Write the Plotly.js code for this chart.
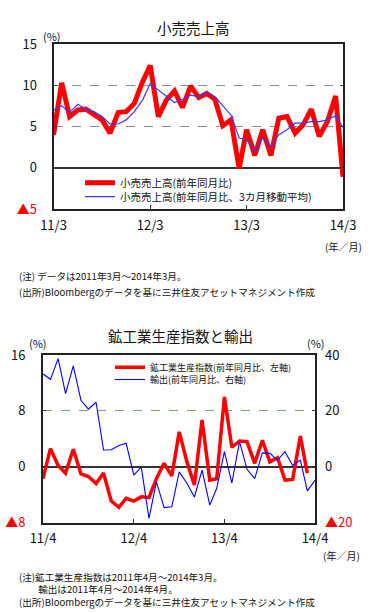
<!DOCTYPE html>
<html>
<head>
<meta charset="utf-8">
<script src="https://cdn.plot.ly/plotly-3.0.1.min.js"></script>
<style>
html,body{margin:0;padding:0;background:#fff;}
#chart{width:371px;height:613px;}
</style>
</head>
<body>
<div id="chart"></div>
<script>
// ---- Chart 1: retail sales (YoY %) ----
const months1 = ["2011-03","2011-04","2011-05","2011-06","2011-07","2011-08","2011-09","2011-10","2011-11","2011-12",
  "2012-01","2012-02","2012-03","2012-04","2012-05","2012-06","2012-07","2012-08","2012-09","2012-10","2012-11","2012-12",
  "2013-01","2013-02","2013-03","2013-04","2013-05","2013-06","2013-07","2013-08","2013-09","2013-10","2013-11","2013-12",
  "2014-01","2014-02","2014-03"];
const retail = [4.0,10.3,6.2,7.0,7.1,6.4,5.8,4.2,6.7,6.8,
  7.8,10.4,12.4,6.2,8.2,9.3,7.3,9.9,8.5,9.0,8.3,5.1,
  5.8,-0.1,4.6,1.5,4.6,1.5,6.0,6.2,4.2,5.2,7.1,3.8,
  5.6,8.7,-1.1];
const retailMA = [7.0,7.5,6.7,7.7,7.1,6.8,6.2,5.3,5.3,5.8,
  6.8,8.2,10.2,9.4,8.6,7.9,8.3,8.8,8.6,9.2,8.6,7.5,
  6.4,3.6,3.4,2.0,3.6,2.5,4.0,4.6,5.4,5.4,5.6,5.6,
  5.8,6.3,4.9];
const ticks1 = ["2011-03-01","2012-03-01","2013-03-01","2014-03-01"];
const tickText1 = ["11/3","12/3","13/3","14/3"];
const yTicks1 = [-5,0,5,10,15];
const yTickText1 = ['<span style="color:#ff0000">▲5</span>',"0","5","10","15"];

// ---- Chart 2: industrial production & exports (YoY %) ----
const months2 = ["2011-04","2011-05","2011-06","2011-07","2011-08","2011-09","2011-10","2011-11","2011-12",
  "2012-01","2012-02","2012-03","2012-04","2012-05","2012-06","2012-07","2012-08","2012-09","2012-10","2012-11","2012-12",
  "2013-01","2013-02","2013-03","2013-04","2013-05","2013-06","2013-07","2013-08","2013-09","2013-10","2013-11","2013-12",
  "2014-01","2014-02","2014-03","2014-04"];
const ipi = [-1.7,2.6,0.2,-0.9,2.5,-1.0,-1.4,-2.4,-0.9,
  -4.9,-5.8,-4.5,-4.9,-4.3,-4.4,-1.7,0.5,-1.3,5.0,0.7,-2.6,
  6.7,-1.9,-1.7,10.0,2.8,3.7,3.6,0.5,3.8,0.7,1.3,-1.9,
  -1.8,4.4,-0.9];
const exportsYoY = [33.2,31.3,38.7,26.2,36.1,23.8,20.6,23.1,6.0,
  6.1,7.6,8.4,-3.0,0.0,-18.5,-5.4,-14.6,-14.3,-1.8,-5.9,-10.8,
  -1.2,-13.7,-7.7,5.4,-5.8,9.0,-0.9,-4.2,5.0,4.8,2.4,5.4,
  0.5,2.4,-8.6,-4.8];
const ticks2 = ["2011-04-01","2012-04-01","2013-04-01","2014-04-01"];
const tickText2 = ["11/4","12/4","13/4","14/4"];
const yTicks2L = [-8,0,8,16];
const yTickText2L = ['<span style="color:#ff0000">▲8</span>',"0","8","16"];
const yTicks2R = [-20,0,20,40];
const yTickText2R = ['<span style="color:#ff0000">▲20</span>',"0","20","40"];

const W = 371, H = 613;
const px = x => x / W;
const py = y => 1 - y / H;
const FONT = '"Noto Sans CJK JP", "Noto Sans", sans-serif';

const traces = [
  {x: months1, y: retail, type: 'scatter', mode: 'lines', name: '小売売上高(前年同月比)',
   line: {color: '#ff0000', width: 5}, xaxis: 'x', yaxis: 'y', legend: 'legend'},
  {x: months1, y: retailMA, type: 'scatter', mode: 'lines', name: '小売売上高(前年同月比、3カ月移動平均)',
   line: {color: '#3a3aff', width: 1.2}, xaxis: 'x', yaxis: 'y', legend: 'legend2'},
  {x: months2.slice(0, ipi.length), y: ipi, type: 'scatter', mode: 'lines', name: '鉱工業生産指数(前年同月比、左軸)',
   line: {color: '#ff0000', width: 3.5}, xaxis: 'x2', yaxis: 'y2', legend: 'legend3'},
  {x: months2, y: exportsYoY, type: 'scatter', mode: 'lines', name: '輸出(前年同月比、右軸)',
   line: {color: '#0000ff', width: 1.1}, xaxis: 'x2', yaxis: 'y3', legend: 'legend4'}
];

const frame = {showline: true, linecolor: '#222', linewidth: 2};
const tickFont = {family: FONT, size: 13, color: '#111'};

const legendBase = {xanchor: 'left', yanchor: 'middle', bgcolor: 'rgba(0,0,0,0)', borderwidth: 0,
  itemwidth: 30, tracegroupgap: 0};

const noteFont = {family: FONT, size: 9.6, color: '#111'};

const layout = {
  width: W, height: H,
  margin: {l: 0, r: 0, t: 0, b: 0},
  paper_bgcolor: '#ffffff', plot_bgcolor: '#ffffff',
  font: {family: FONT, color: '#111'},
  showlegend: true,
  hovermode: false,
  xaxis: Object.assign({}, frame, {
    domain: [px(53.5), px(343)], anchor: 'y', type: 'date',
    range: ['2011-03-01', '2014-03-01'], tickmode: 'array', tickvals: ticks1, ticktext: tickText1,
    ticks: 'inside', ticklen: 4, tickcolor: '#333', mirror: true, showgrid: false, zeroline: false,
    tickfont: tickFont, ticklabelstandoff: 3
  }),
  yaxis: Object.assign({}, frame, {
    domain: [py(209), py(44)], anchor: 'x', range: [-5, 15], tickmode: 'array',
    tickvals: yTicks1, ticktext: yTickText1, ticks: 'inside', ticklen: 3, tickcolor: '#333', mirror: 'ticks',
    showgrid: true, gridcolor: '#8a8a8a', griddash: 'dash', gridwidth: 1,
    zeroline: true, zerolinecolor: '#333', zerolinewidth: 2,
    tickfont: tickFont, ticklabelstandoff: 12
  }),
  xaxis2: Object.assign({}, frame, {
    domain: [px(43), px(315)], anchor: 'y2', type: 'date',
    range: ['2011-04-01', '2014-04-01'], tickmode: 'array', tickvals: ticks2, ticktext: tickText2,
    ticks: 'inside', ticklen: 4, tickcolor: '#333', mirror: true, showgrid: false, zeroline: false,
    tickfont: tickFont, ticklabelstandoff: 3
  }),
  yaxis2: Object.assign({}, frame, {
    domain: [py(522.7), py(355)], anchor: 'x2', range: [-8, 16], tickmode: 'array',
    tickvals: yTicks2L, ticktext: yTickText2L, ticks: 'inside', ticklen: 3, tickcolor: '#333', mirror: true,
    showgrid: true, gridcolor: '#80a070', griddash: 'dash', gridwidth: 1,
    zeroline: true, zerolinecolor: '#333', zerolinewidth: 2,
    tickfont: tickFont, ticklabelstandoff: 13
  }),
  yaxis3: {
    overlaying: 'y2', side: 'right', anchor: 'x2', range: [-20, 40], tickmode: 'array',
    tickvals: yTicks2R, ticktext: yTickText2R, ticks: 'inside', ticklen: 3, tickcolor: '#333',
    showline: false, showgrid: false, zeroline: false,
    tickfont: tickFont, ticklabelstandoff: 9
  },
  legend: Object.assign({}, legendBase, {x: px(80), y: py(182.7), font: {family: FONT, size: 10.5, color: '#111'}}),
  legend2: Object.assign({}, legendBase, {x: px(80), y: py(196.7), font: {family: FONT, size: 10.5, color: '#111'}}),
  legend3: Object.assign({}, legendBase, {x: px(110), y: py(367.3), font: {family: FONT, size: 9, color: '#111'}}),
  legend4: Object.assign({}, legendBase, {x: px(110), y: py(379.5), font: {family: FONT, size: 9, color: '#111'}}),
  annotations: [
    {text: '小売売上高', x: px(193), y: py(27), xref: 'paper', yref: 'paper', xanchor: 'center', yanchor: 'middle',
     showarrow: false, font: {family: FONT, size: 14.5, color: '#111'}},
    {text: '(%)', x: px(51.5), y: py(36), xref: 'paper', yref: 'paper', xanchor: 'center', yanchor: 'middle',
     showarrow: false, font: {family: FONT, size: 11, color: '#111'}},
    {text: '(年／月)', x: px(343), y: py(247), xref: 'paper', yref: 'paper', xanchor: 'center', yanchor: 'middle',
     showarrow: false, font: {family: FONT, size: 10, color: '#111'}},
    {text: '(注) データは2011年3月～2014年3月。', x: px(17), y: py(276), xref: 'paper', yref: 'paper',
     xanchor: 'left', yanchor: 'middle', showarrow: false, font: noteFont},
    {text: '(出所)Bloombergのデータを基に三井住友アセットマネジメント作成', x: px(17), y: py(292), xref: 'paper', yref: 'paper',
     xanchor: 'left', yanchor: 'middle', showarrow: false, font: noteFont},

    {text: '鉱工業生産指数と輸出', x: px(180), y: py(335), xref: 'paper', yref: 'paper', xanchor: 'center', yanchor: 'middle',
     showarrow: false, font: {family: FONT, size: 14.5, color: '#111'}},
    {text: '(%)', x: px(37.5), y: py(343), xref: 'paper', yref: 'paper', xanchor: 'center', yanchor: 'middle',
     showarrow: false, font: {family: FONT, size: 11, color: '#111'}},
    {text: '(%)', x: px(316), y: py(343), xref: 'paper', yref: 'paper', xanchor: 'center', yanchor: 'middle',
     showarrow: false, font: {family: FONT, size: 11, color: '#111'}},
    {text: '(年／月)', x: px(341), y: py(555), xref: 'paper', yref: 'paper', xanchor: 'center', yanchor: 'middle',
     showarrow: false, font: {family: FONT, size: 10, color: '#111'}},
    {text: '(注)鉱工業生産指数は2011年4月～2014年3月。<br>　　輸出は2011年4月～2014年4月。<br>(出所)Bloombergのデータを基に三井住友アセットマネジメント作成',
     x: px(17), y: py(589), xref: 'paper', yref: 'paper', align: 'left',
     xanchor: 'left', yanchor: 'middle', showarrow: false, font: noteFont}
  ]
};

Plotly.newPlot('chart', traces, layout, {staticPlot: true, displayModeBar: false});
</script>
</body>
</html>
